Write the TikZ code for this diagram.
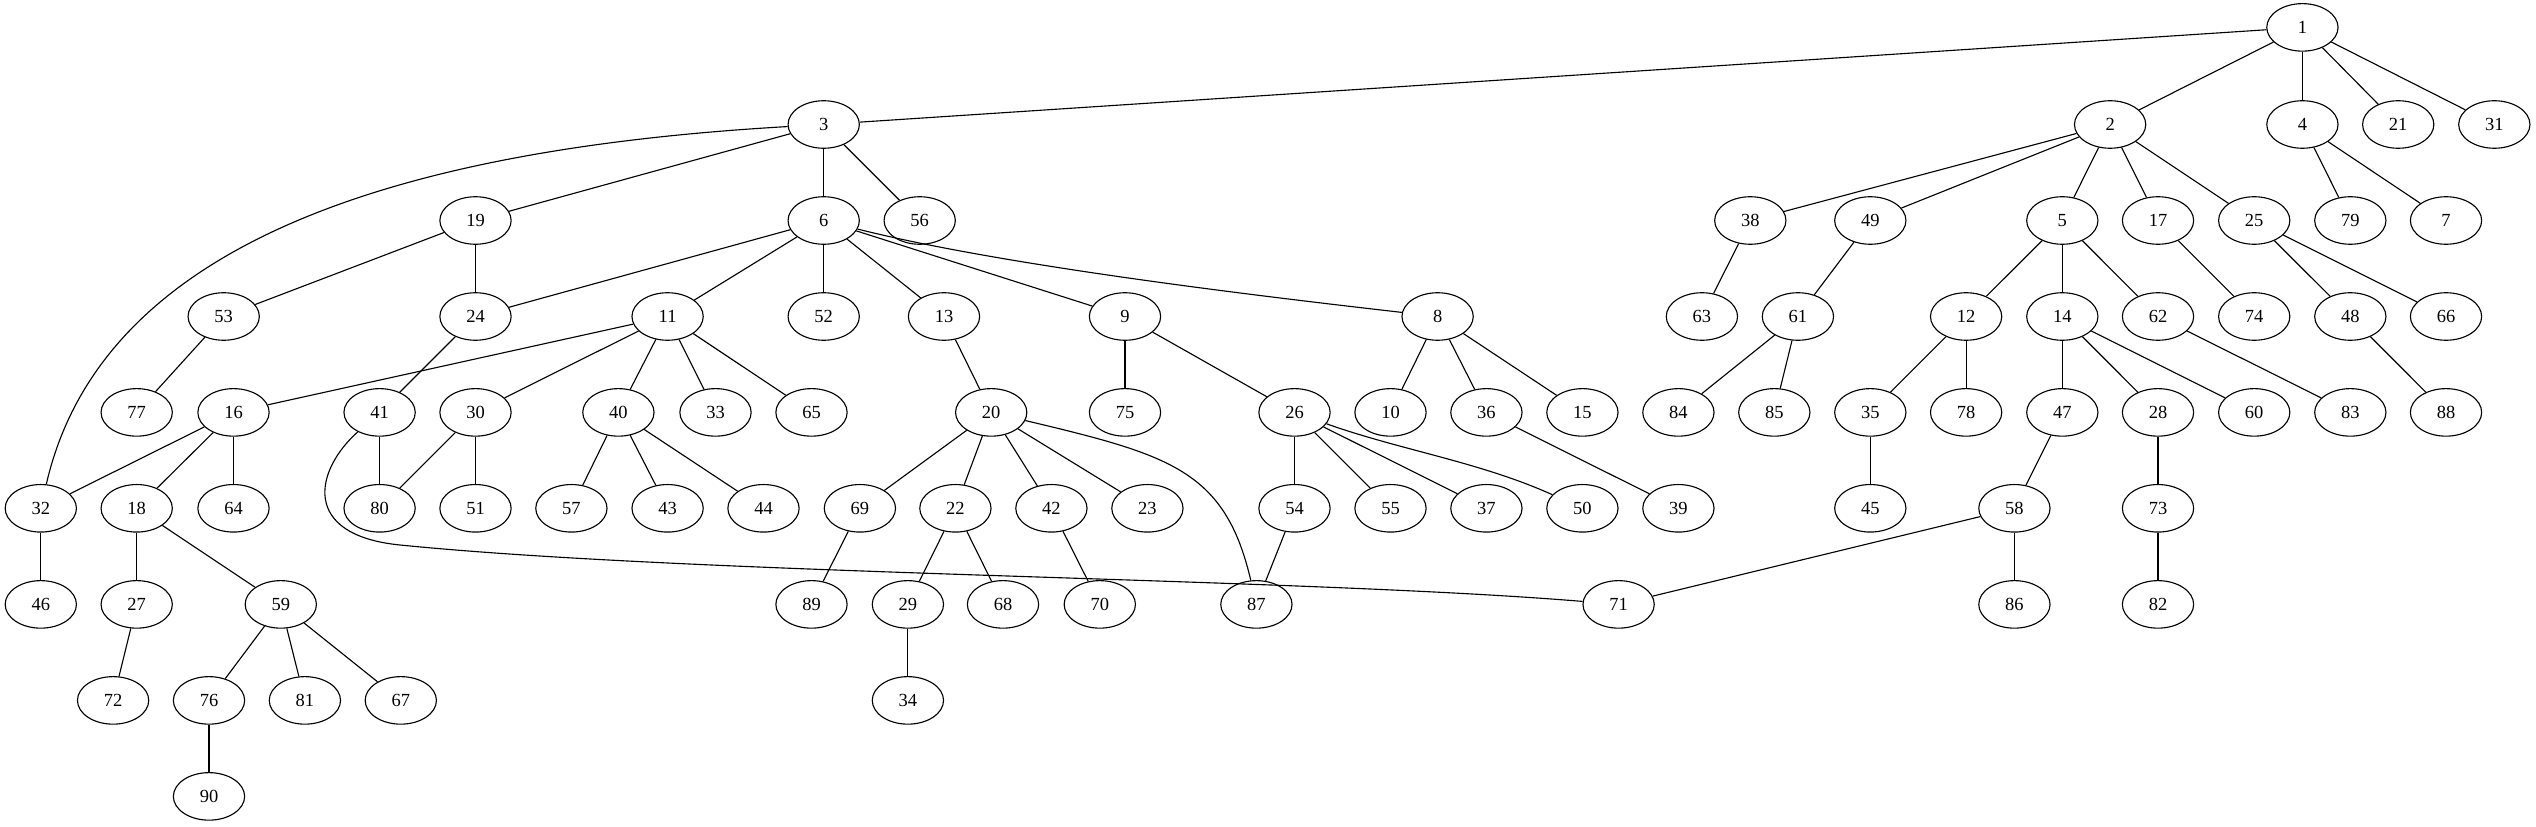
\documentclass[tikz,border=0pt]{standalone}
\usepackage{fontspec}
\setmainfont{Liberation Serif}
\usetikzlibrary{shapes.geometric}
\begin{document}
\begin{tikzpicture}[x=0.7576pt,y=-0.7576pt,
  v/.style={draw,ellipse,minimum width=54pt,minimum height=36pt,inner sep=0pt,line width=0.85pt,font=\fontsize{14pt}{16pt}\selectfont},
  e/.style={line width=0.85pt}]
\useasboundingbox (0,0) rectangle (2536,827);
% rank 0
\node[v] (n1) at (2302.4,27.4) {1};
% rank 1
\foreach \n/\x in {2/2110.1,3/823.7,4/2302.4,21/2398.2,31/2494.3}
  \node[v] (n\n) at (\x,124.5) {\n};
% rank 2
\foreach \n/\x in {19/475.5,6/823.7,56/919.7,38/1750.3,49/1870.3,5/2062.3,17/2158,25/2254.2,79/2350.3,7/2446}
  \node[v] (n\n) at (\x,220.5) {\n};
% rank 3
\foreach \n/\x in {53/223.7,24/475.5,11/667.6,52/823.7,13/944,9/1125,8/1437.6,63/1701.9,61/1797.9,12/1966.1,14/2062.3,62/2158,74/2254.2,48/2350.3,66/2446}
  \node[v] (n\n) at (\x,316.5) {\n};
% rank 4
\foreach \n/\x in {77/136.7,16/233.5,41/379.6,30/475.5,40/618.4,33/715.5,65/811.5,20/991.2,75/1125,26/1294.5,10/1390.5,36/1486.4,15/1582.4,84/1678.4,85/1774.3,35/1870.3,78/1966.1,47/2062.3,28/2158,60/2254.2,83/2350.3,88/2446}
  \node[v] (n\n) at (\x,412.4) {\n};
% rank 5
\foreach \n/\x in {32/40.8,18/136.7,64/233.5,80/379.6,51/475.5,57/571.4,43/667.6,44/763.5,69/859.9,22/955.4,42/1051.4,23/1147.4,54/1294.5,55/1390.5,37/1486.4,50/1582.4,39/1678.4,45/1870.3,58/2014.4,73/2158}
  \node[v] (n\n) at (\x,508.3) {\n};
% rank 6
\foreach \n/\x in {46/40.8,27/136.7,59/280.8,89/811.5,29/907.9,68/1003,70/1099.8,87/1256.4,71/1618.6,86/2014.4,82/2158}
  \node[v] (n\n) at (\x,604.4) {\n};
% rank 7
\foreach \n/\x in {72/113.1,76/209,81/304.9,67/400.8,34/907.9}
  \node[v] (n\n) at (\x,700.4) {\n};
% rank 8
\node[v] (n90) at (209,796.4) {90};
% straight edges
\foreach \a/\b in {1/3,1/2,1/4,1/21,1/31,3/19,3/6,3/56,2/38,2/49,2/5,2/17,2/25,4/79,4/7,19/53,19/24,6/24,6/11,6/52,6/13,6/9,38/63,49/61,5/12,5/14,5/62,17/74,25/48,25/66,53/77,24/41,11/16,11/30,11/40,11/33,11/65,13/20,9/75,9/26,8/10,8/36,8/15,61/84,61/85,12/35,12/78,14/47,14/28,14/60,62/83,48/88,16/32,16/18,16/64,41/80,30/80,30/51,40/57,40/43,40/44,20/69,20/22,20/42,20/23,26/54,26/55,26/37,36/39,35/45,47/58,28/73,32/46,18/27,18/59,69/89,22/29,22/68,42/70,54/87,58/71,58/86,73/82,27/72,59/76,59/81,59/67,29/34,76/90}
  \draw[e] (n\a) -- (n\b);
% curved edges
\draw[e] (n3) .. controls (380,150) and (100,250) .. (n32);
\draw[e] (n41) .. controls (315,470) and (300,535) .. (400,545) .. controls (700,575) and (1300,578) .. (n71);
\draw[e] (n20) .. controls (1170,455) and (1225,470) .. (n87);
\draw[e] (n26) .. controls (1400,450) and (1480,462) .. (n50);
\draw[e] (n6) .. controls (1000,265) and (1250,295) .. (n8);
\end{tikzpicture}
\end{document}
